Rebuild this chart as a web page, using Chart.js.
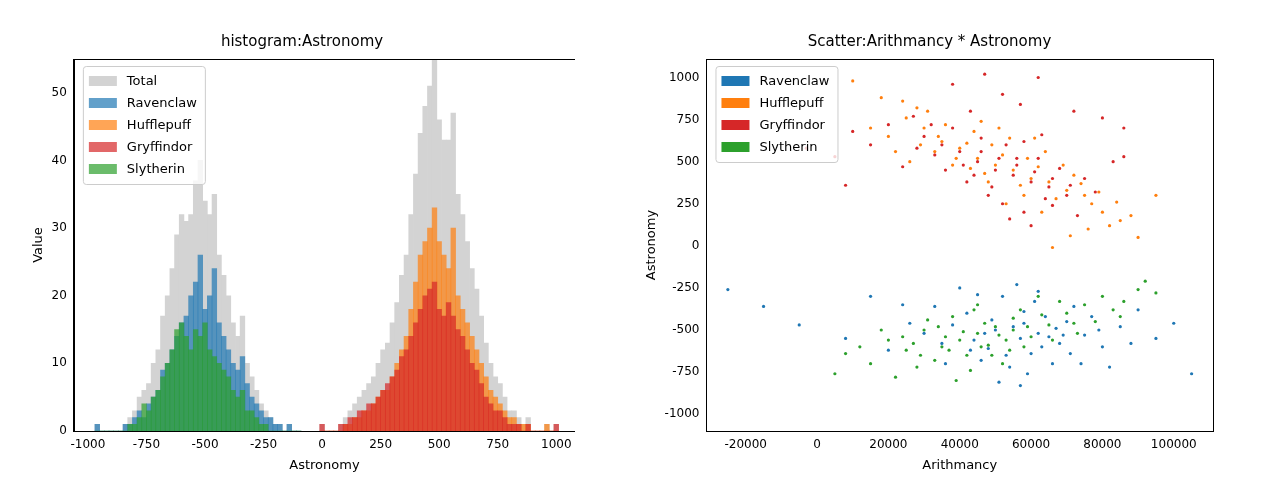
<!DOCTYPE html>
<html><head><meta charset="utf-8">
<script src="https://cdn.jsdelivr.net/npm/chart.js@4"></script>
<style>
body{margin:0;background:#fff;width:1278px;height:479px;position:relative;overflow:hidden}
.box{position:absolute;top:33px;height:442px}
</style></head><body>
<div class="box" style="left:29px;width:546px"><canvas id="hist"></canvas></div>
<div class="box" style="left:642px;width:575px"><canvas id="scat"></canvas></div>
<script>
// histogram bins (bin centres) and counts per house
const negBins = [];
for (let x = -960; x <= -100; x += 20) negBins.push(x);
const posBins = [];
for (let x = 0; x <= 1000; x += 20) posBins.push(x);

const ravenclaw = [1,0,0,0,0,0,1,1,2,3,2,4,5,6,9,10,12,14,16,17,20,22,26,18,20,24,16,14,12,10,9,11,7,5,4,3,2,2,1,1,0,1,0,0];
const slytherin = [0,0,0,0,0,0,0,1,1,2,4,3,5,6,8,10,12,15,16,14,12,15,14,16,12,11,10,9,8,6,5,6,3,3,2,1,1,0,0,0,0,0,0,0];
const hufflepuff = [0,0,0,0,0,1,1,2,2,3,3,4,5,6,6,8,10,12,14,18,22,26,28,30,33,28,26,24,30,20,18,16,14,12,10,8,6,5,4,3,2,2,1,1,1,0,0,0,1,0,0];
const gryffindor = [1,0,0,0,1,1,2,2,3,3,4,4,5,6,7,8,9,11,12,14,16,18,20,21,22,18,17,19,17,15,14,12,10,9,7,5,4,3,3,2,1,1,1,0,1,0,0,0,0,0,1];

// scatter points: [Arithmancy in thousands, Astronomy]
const ravenclawPts = [[55,-480],[62,-520],[48,-610],[70,-450],[58,-390],[44,-560],[66,-700],[52,-300],[75,-530],[60,-640],[38,-470],[80,-600],[57,-550],[64,-420],[50,-500],[46,-680],[72,-360],[68,-580],[54,-720],[42,-400],[85,-480],[61,-330],[59,-760],[35,-580],[77,-420],[49,-440],[63,-600],[53,-650],[67,-490],[71,-640],[30,-520],[26,-460],[90,-380],[95,-550],[100,-460],[105,-760],[-25,-260],[-15,-360],[-5,-470],[8,-550],[15,-300],[20,-620],[24,-350],[40,-250],[45,-290],[56,-230],[62,-270],[74,-700],[82,-720],[88,-580],[51,-810],[57,-830],[65,-540],[47,-520],[58,-460],[69,-530],[43,-620],[36,-700],[33,-360],[79,-500]];
const slytherinPts = [[45,-520],[40,-560],[50,-480],[35,-600],[55,-430],[42,-650],[30,-500],[48,-590],[38,-420],[60,-540],[25,-620],[52,-700],[44,-380],[33,-680],[58,-600],[20,-560],[28,-720],[65,-470],[70,-400],[75,-350],[80,-300],[85,-420],[90,-260],[95,-280],[12,-600],[8,-640],[5,-760],[15,-700],[18,-500],[22,-780],[47,-460],[41,-510],[36,-540],[53,-560],[57,-380],[62,-300],[68,-330],[73,-520],[78,-450],[83,-380],[43,-740],[39,-800],[49,-650],[55,-500],[31,-440],[27,-580],[46,-600],[51,-530],[34,-480],[37,-620],[59,-480],[63,-410],[66,-560],[72,-460],[86,-330],[92,-210],[24,-540],[29,-650],[54,-620],[45,-350]];
const hufflepuffPts = [[45,520],[40,580],[50,480],[35,620],[55,450],[60,400],[30,700],[25,760],[65,380],[70,330],[75,300],[80,200],[85,150],[90,50],[95,300],[15,700],[20,650],[28,820],[33,560],[38,480],[42,610],[47,430],[52,540],[57,360],[62,470],[67,280],[72,420],[77,250],[82,120],[88,180],[10,980],[18,880],[24,860],[31,800],[36,720],[44,680],[49,600],[54,640],[59,520],[64,560],[69,480],[74,370],[79,320],[84,260],[58,300],[63,200],[53,250],[48,380],[43,460],[39,520],[34,650],[29,600],[26,500],[22,560],[46,740],[51,700],[61,640],[66,-10],[71,60],[76,100]];
const gryffindorPts = [[50,450],[45,500],[55,420],[40,560],[60,380],[35,600],[65,350],[30,650],[70,300],[75,400],[48,300],[52,250],[58,200],[62,520],[68,460],[42,380],[38,700],[33,540],[28,580],[24,470],[20,720],[15,600],[10,680],[5,530],[-3,580],[8,360],[47,1020],[38,960],[52,900],[62,1000],[57,840],[72,800],[80,760],[86,700],[46,640],[53,600],[63,660],[56,520],[44,420],[49,350],[54,160],[60,120],[66,240],[73,180],[78,320],[83,500],[86,530],[36,450],[41,480],[46,560],[51,520],[56,480],[61,440],[66,400],[71,360],[32,720],[27,770],[43,800],[58,620],[64,280]];

const colors = {
  total: '#d3d3d3',
  ravenclaw: 'rgba(31,119,180,0.7)', hufflepuff: 'rgba(255,127,14,0.7)',
  gryffindor: 'rgba(214,39,40,0.7)', slytherin: 'rgba(44,160,44,0.7)'
};
const solid = {ravenclaw:'#1f77b4', hufflepuff:'#ff7f0e', gryffindor:'#d62728', slytherin:'#2ca02c'};

const frame = {
  id: 'frame',
  afterDraw(chart) {
    const {ctx, chartArea: a} = chart;
    ctx.save();
    ctx.strokeStyle = '#000'; ctx.lineWidth = 1;
    ctx.strokeRect(Math.round(a.left) + 0.5, Math.round(a.top) + 0.5, Math.round(a.width), Math.round(a.height));
    ctx.restore();
  }
};

// matplotlib-like legend in the upper left of the plot
const innerLegend = {
  id: 'innerLegend',
  afterDraw(chart) {
    const {ctx, chartArea: a} = chart;
    const items = chart.data.datasets.map(d => ({text: d.label, color: d.legendColor || d.backgroundColor}));
    ctx.save();
    ctx.font = '13px "DejaVu Sans"';
    const w = Math.max(...items.map(i => ctx.measureText(i.text).width)) + 52;
    const h = items.length * 22 + 8;
    const x0 = a.left + 9, y0 = a.top + 7;
    ctx.fillStyle = 'rgba(255,255,255,0.8)';
    ctx.strokeStyle = '#cccccc';
    ctx.beginPath(); ctx.roundRect(x0 + 0.5, y0 + 0.5, w, h, 3); ctx.fill(); ctx.stroke();
    items.forEach((it, i) => {
      const cy = y0 + 15 + i * 22;
      ctx.fillStyle = it.color;
      ctx.fillRect(x0 + 6, cy - 5, 28, 10);
      ctx.fillStyle = '#000';
      ctx.textBaseline = 'middle';
      ctx.fillText(it.text, x0 + 44, cy + 1);
    });
    ctx.restore();
  }
};

Chart.defaults.font.family = 'DejaVu Sans';
Chart.defaults.font.size = 12;
Chart.defaults.color = '#000';
Chart.defaults.animation = false;

const xy = (bins, vals) => bins.map((x, i) => ({x, y: vals[i]}));
const totalNeg = ravenclaw.map((v, i) => v + slytherin[i]);
const totalPos = hufflepuff.map((v, i) => v + gryffindor[i]);

function barSet(label, data, color, order) {
  return {label, data, backgroundColor: color, grouped: false, order,
    barPercentage: 1, categoryPercentage: 1, borderWidth: 0};
}

const axisTitle = t => ({display: true, text: t, font: {size: 13}, padding: 2});
const tickOpts = {font: {size: 12}, callback: v => v};
const gridOpts = {display: false, tickLength: 4, tickColor: '#000'};
const fixTicks = vals => s => { s.ticks = vals.map(value => ({value})); };
const titleOpts = t => ({display: true, text: t, font: {size: 15, weight: 'normal'}, padding: {top: 0, bottom: 8}});

new Chart(document.getElementById('hist'), {
  type: 'bar',
  data: {datasets: [
    barSet('Total', xy(negBins, totalNeg).concat(xy(posBins, totalPos)), colors.total, 5),
    barSet('Ravenclaw', xy(negBins, ravenclaw), colors.ravenclaw, 4),
    barSet('Hufflepuff', xy(posBins, hufflepuff), colors.hufflepuff, 3),
    barSet('Gryffindor', xy(posBins, gryffindor), colors.gryffindor, 2),
    barSet('Slytherin', xy(negBins, slytherin), colors.slytherin, 1)
  ]},
  options: {
    responsive: true, maintainAspectRatio: false,
    plugins: {title: titleOpts('histogram:Astronomy'), legend: {display: false}, tooltip: {enabled: false}},
    scales: {
      x: {type: 'linear', min: -1060, max: 1080, offset: false,
        afterBuildTicks: fixTicks([-1000,-750,-500,-250,0,250,500,750,1000]),
        ticks: tickOpts, grid: gridOpts, border: {color: '#000'}, title: axisTitle('Astronomy')},
      y: {min: 0, max: 55,
        afterBuildTicks: fixTicks([0,10,20,30,40,50]),
        ticks: tickOpts, grid: gridOpts, border: {color: '#000'}, title: axisTitle('Value')}
    }
  },
  plugins: [frame, innerLegend]
});

const pts = arr => arr.map(([x, y]) => ({x: x * 1000, y}));
function scatSet(label, arr, color) {
  return {label, data: pts(arr), backgroundColor: color, borderWidth: 0, pointRadius: 1.6};
}

new Chart(document.getElementById('scat'), {
  type: 'scatter',
  data: {datasets: [
    scatSet('Ravenclaw', ravenclawPts, solid.ravenclaw),
    scatSet('Hufflepuff', hufflepuffPts, solid.hufflepuff),
    scatSet('Gryffindor', gryffindorPts, solid.gryffindor),
    scatSet('Slytherin', slytherinPts, solid.slytherin)
  ]},
  options: {
    responsive: true, maintainAspectRatio: false,
    plugins: {title: titleOpts('Scatter:Arithmancy * Astronomy'), legend: {display: false}, tooltip: {enabled: false}},
    scales: {
      x: {min: -31000, max: 111000,
        afterBuildTicks: fixTicks([-20000,0,20000,40000,60000,80000,100000]),
        ticks: tickOpts, grid: gridOpts, border: {color: '#000'}, title: axisTitle('Arithmancy')},
      y: {min: -1100, max: 1110,
        afterBuildTicks: fixTicks([-1000,-750,-500,-250,0,250,500,750,1000]),
        ticks: tickOpts, grid: gridOpts, border: {color: '#000'}, title: axisTitle('Astronomy')}
    }
  },
  plugins: [frame, innerLegend]
});
</script></body></html>
